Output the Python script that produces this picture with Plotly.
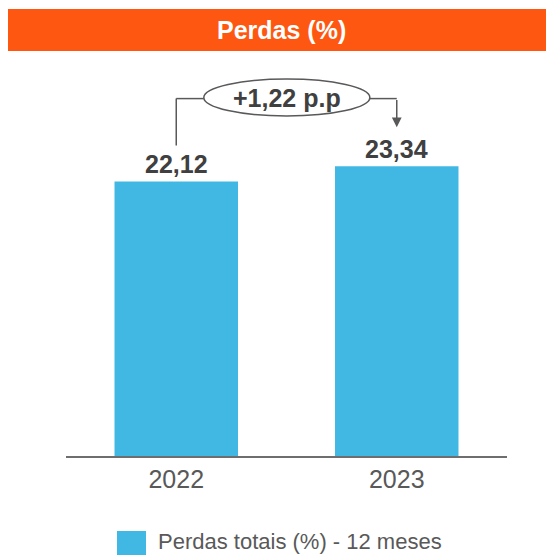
import plotly.graph_objects as go

# ---- data ----
categories = ["2022", "2023"]
values = [22.12, 23.34]
value_labels = ["22,12", "23,34"]
series_name = "Perdas totais (%) - 12 meses"
title_text = "Perdas (%)"

# page body has an 8px margin; work in screen pixels and convert
OFF = 8
W, H = 554 - OFF, 555 - OFF
FONT = "Liberation Sans, Arial, sans-serif"
BAR_COLOR = "#41B8E4"
GRAY = "#595959"
DARK = "#404040"

def px_x(p):
    return (p - OFF) / W

def px_y(p):
    return 1 - (p - OFF) / H

fig = go.Figure()
fig.add_trace(go.Bar(
    x=categories, y=values, name=series_name,
    marker=dict(color=BAR_COLOR, line=dict(width=0)),
    width=0.56, showlegend=False, hoverinfo="x+y",
))

y_max = 396 / 12.41

fig.update_layout(
    width=W, height=H,
    margin=dict(l=0, r=0, t=0, b=0),
    paper_bgcolor="white", plot_bgcolor="white",
    font=dict(family=FONT, color=GRAY),
    xaxis=dict(
        domain=[px_x(66), px_x(507)],
        type="category", range=[-0.5, 1.5],
        showline=True, linecolor="#6e6e6e", linewidth=2,
        showgrid=False, zeroline=False, ticks="",
        tickfont=dict(family=FONT, size=25, color=GRAY),
    ),
    yaxis=dict(
        domain=[px_y(456), px_y(60)],
        range=[0, y_max], visible=False, showgrid=False, zeroline=False,
    ),
)

shapes = []
annotations = []

# title banner
shapes.append(dict(type="rect", xref="paper", yref="paper",
                   x0=px_x(4), x1=1.02, y0=px_y(51), y1=px_y(9),
                   fillcolor="#FE5711", line=dict(width=0), layer="below"))
annotations.append(dict(text="<b>" + title_text + "</b>", xref="paper", yref="paper",
                        x=px_x(281.5), y=px_y(30), xanchor="center", yanchor="middle",
                        showarrow=False, font=dict(family=FONT, size=25, color="white")))

# value labels (x given as category index)
for i, (v, lab) in enumerate(zip(values, value_labels)):
    annotations.append(dict(text="<b>" + lab + "</b>", x=i, y=v, xref="x", yref="y",
                            xanchor="center", yanchor="middle", yshift=17,
                            showarrow=False, font=dict(family=FONT, size=25, color=DARK)))

# change annotation
diff = values[1] - values[0]
diff_text = ("+" if diff >= 0 else "") + f"{diff:.2f}".replace(".", ",") + " p.p"
conn_y = 28.8
ell_x0, ell_x1 = 0.125, 0.878
ell_y0, ell_y1 = 27.40, 30.38
line_style = dict(color=GRAY, width=1.5)
shapes.append(dict(type="line", xref="x", yref="y", x0=0, x1=0, y0=values[0] + 2.9, y1=conn_y, line=line_style))
shapes.append(dict(type="line", xref="x", yref="y", x0=0, x1=ell_x0, y0=conn_y, y1=conn_y, line=line_style))
shapes.append(dict(type="line", xref="x", yref="y", x0=ell_x1, x1=1, y0=conn_y, y1=conn_y, line=line_style))
shapes.append(dict(type="circle", xref="x", yref="y", x0=ell_x0, x1=ell_x1, y0=ell_y0, y1=ell_y1,
                   fillcolor="white", line=line_style))
annotations.append(dict(text="", x=1, y=values[1] + 3.15, ax=1, ay=conn_y,
                        xref="x", yref="y", axref="x", ayref="y",
                        showarrow=True, arrowhead=2, arrowsize=1.3, arrowwidth=1.5,
                        arrowcolor=GRAY, standoff=0))
annotations.append(dict(text="<b>" + diff_text + "</b>", x=(ell_x0 + ell_x1) / 2, y=(ell_y0 + ell_y1) / 2,
                        xref="x", yref="y", xanchor="center", yanchor="middle", yshift=-1,
                        showarrow=False, font=dict(family=FONT, size=25, color=DARK)))

# custom legend
shapes.append(dict(type="rect", xref="paper", yref="paper",
                   x0=px_x(117), x1=px_x(146), y0=px_y(565), y1=px_y(531),
                   fillcolor=BAR_COLOR, line=dict(width=0)))
annotations.append(dict(text=series_name, xref="paper", yref="paper",
                        x=px_x(156), y=px_y(541), xanchor="left", yanchor="middle",
                        showarrow=False, font=dict(family=FONT, size=22, color=GRAY)))

fig.update_layout(shapes=shapes, annotations=annotations)
fig.write_html("out.html")
